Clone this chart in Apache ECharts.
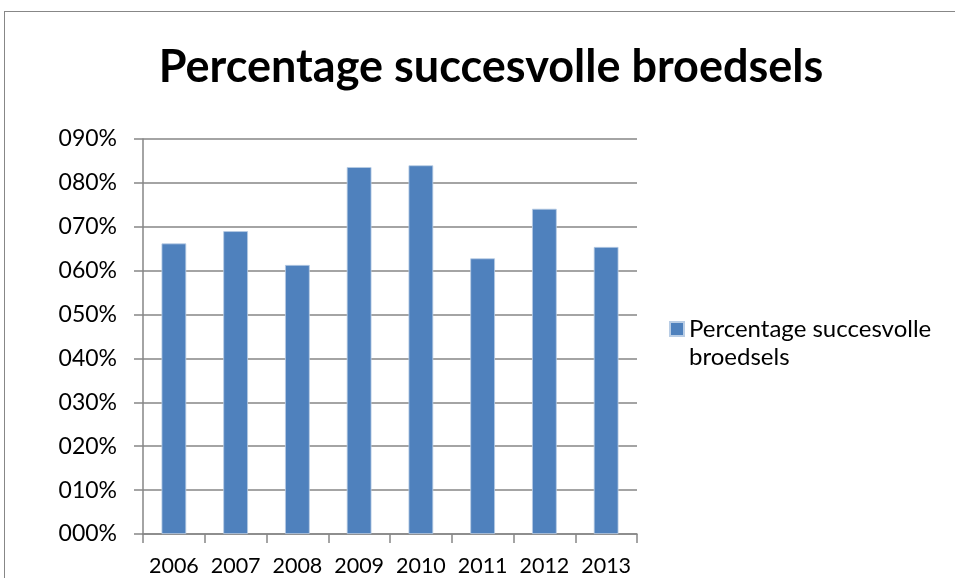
<!DOCTYPE html>
<html><head><meta charset="utf-8">
<script src="https://cdn.jsdelivr.net/npm/echarts@6/dist/echarts.min.js"></script>
<style>
html,body{margin:0;padding:0;background:#fff;overflow:hidden;}
#frame{position:absolute;left:4px;top:11px;width:1000px;height:1000px;border:1.5px solid #878787;box-sizing:border-box;}
#c{position:absolute;left:0;top:0;width:955px;height:578px;}
</style></head>
<body><div id="frame"></div><div id="c"></div>
<script>
const titleText = 'Percentage succesvolle broedsels';
const seriesName = 'Percentage succesvolle broedsels';
const years = ['2006','2007','2008','2009','2010','2011','2012','2013'];
const percentages = [66.2, 69.0, 61.3, 83.6, 84.0, 62.8, 74.1, 65.4];
const yTicks = [0,10,20,30,40,50,60,70,80,90];

const FONT = 'Lato';
const chart = echarts.init(document.getElementById('c'), null, {renderer:'canvas'});
chart.setOption({
  animation:false,
  backgroundColor:'transparent',
  title:{text:titleText,left:486,textAlign:'center',top:40,
    textStyle:{fontFamily:FONT,fontWeight:'bold',fontSize:45,color:'#000'}},
  legend:{
    data:[seriesName],left:669,top:287,padding:0,itemWidth:14,itemHeight:14,icon:'rect',itemGap:0,
    formatter:n=>'\n'+n.replace(/ (\S+)$/,'\n$1'),
    textStyle:{fontFamily:FONT,fontSize:24,color:'#000',lineHeight:28}
  },
  grid:{left:143,right:318,top:139,bottom:44},
  xAxis:{type:'category',data:years,
    axisLine:{lineStyle:{color:'#868686',width:1.5}},
    axisTick:{show:true,alignWithLabel:false,length:9,lineStyle:{color:'#868686',width:1.5}},
    axisLabel:{interval:0,fontFamily:FONT,fontSize:21.5,color:'#000',margin:21,hideOverlap:false}},
  yAxis:{type:'value',min:yTicks[0],max:yTicks[yTicks.length-1],interval:10,
    axisLine:{show:true,lineStyle:{color:'#868686',width:1.5}},
    axisTick:{show:true,length:9,lineStyle:{color:'#868686',width:1.5}},
    splitLine:{lineStyle:{color:'#868686',width:1.5}},
    axisLabel:{fontFamily:FONT,fontSize:23,color:'#000',margin:26,
      formatter:v=>String(v).padStart(3,'0')+'%'}},
  series:[{name:seriesName,type:'bar',data:percentages,barCategoryGap:'60%',
    itemStyle:{color:'#4F81BD',borderColor:'#B9CDE5',borderWidth:0.8}}]
});
</script></body></html>
